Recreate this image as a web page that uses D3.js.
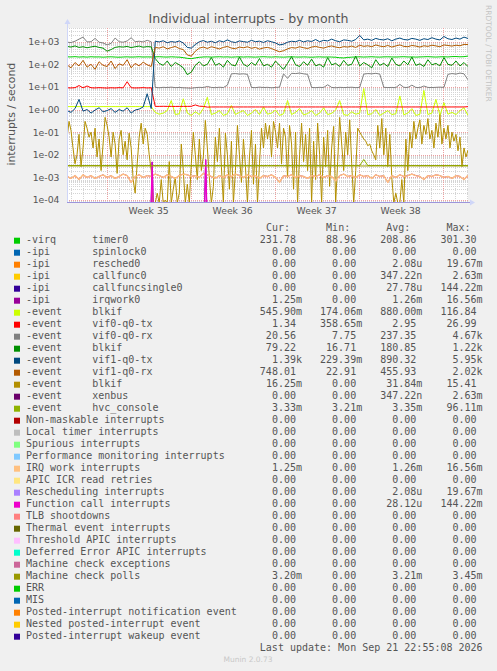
<!DOCTYPE html>
<html><head><meta charset="utf-8">
<script src="https://cdn.jsdelivr.net/npm/d3@7"></script>
<style>
html,body{margin:0;padding:0;background:#f0f0f0;}
svg{display:block;}
</style></head><body>
<svg id="chart" width="497" height="671"></svg>
<script>
// ---------------- DATA ----------------
const chartTitle = "Individual interrupts - by month";
const yAxisLabel = "interrupts / second";
const yTickValues = [1e3, 1e2, 1e1, 1e0, 1e-1, 1e-2, 1e-3, 1e-4];
const yTickLabels = ["1e+03", "1e+02", "1e+01", "1e+00", "1e-01", "1e-02", "1e-03", "1e-04"];
const timeStart = Date.UTC(2026, 7, 20, 16, 40);
const timeEnd = Date.UTC(2026, 8, 23, 2, 40);
const lastUpdate = "Last update: Mon Sep 21 22:55:08 2026";
const credit = "Munin 2.0.73";
const sideText = "RRDTOOL / TOBI OETIKER";
const headers = ["Cur:", "Min:", "Avg:", "Max:"];

const legendGroup = ["-virq","-ipi","-ipi","-ipi","-ipi","-ipi","-event","-event","-event","-event","-event","-event","-event","-event","-event",
  "","","","","","","","","","","","","","","","","","",""];
const legendName = ["timer0","spinlock0","resched0","callfunc0","callfuncsingle0","irqwork0","blkif","vif0-q0-tx","vif0-q0-rx","blkif","vif1-q0-tx","vif1-q0-rx","blkif","xenbus","hvc_console",
  "Non-maskable interrupts","Local timer interrupts","Spurious interrupts","Performance monitoring interrupts","IRQ work interrupts","APIC ICR read retries","Rescheduling interrupts","Function call interrupts","TLB shootdowns","Thermal event interrupts","Threshold APIC interrupts","Deferred Error APIC interrupts","Machine check exceptions","Machine check polls","ERR","MIS","Posted-interrupt notification event","Nested posted-interrupt event","Posted-interrupt wakeup event"];
const legendColor = ["#00CC00","#0066B3","#FF8000","#FFCC00","#330099","#990099","#CCFF00","#FF0000","#808080","#008F00","#00487D","#B35A00","#B38F00","#6B006B","#8FB300",
  "#B30000","#BEBEBE","#80FF80","#80C9FF","#FFC080","#FFE680","#AA80FF","#EE00CC","#FF8080","#666600","#FFBFFF","#00FFCC","#CC6699","#999900","#00CC00","#0066B3","#FF8000","#FFCC00","#330099"];
const legendCur = ["231.78","0.00","0.00","0.00","0.00","1.25m","545.90m","1.34","20.56","79.22","1.39k","748.01","16.25m","0.00","3.33m",
  "0.00","0.00","0.00","0.00","1.25m","0.00","0.00","0.00","0.00","0.00","0.00","0.00","0.00","3.20m","0.00","0.00","0.00","0.00","0.00"];
const legendMin = ["88.96","0.00","0.00","0.00","0.00","0.00","174.06m","358.65m","7.75","16.71","229.39m","22.91","0.00","0.00","3.21m",
  "0.00","0.00","0.00","0.00","0.00","0.00","0.00","0.00","0.00","0.00","0.00","0.00","0.00","0.00","0.00","0.00","0.00","0.00","0.00"];
const legendAvg = ["208.86","0.00","2.08u","347.22n","27.78u","1.26m","880.00m","2.95","237.35","180.85","890.32","455.93","31.84m","347.22n","3.35m",
  "0.00","0.00","0.00","0.00","1.26m","0.00","2.08u","28.12u","0.00","0.00","0.00","0.00","0.00","3.21m","0.00","0.00","0.00","0.00","0.00"];
const legendMax = ["301.30","0.00","19.67m","2.63m","144.22m","16.56m","116.84","26.99","4.67k","1.22k","5.95k","2.02k","15.41","2.63m","96.11m",
  "0.00","0.00","0.00","0.00","16.56m","0.00","19.67m","144.22m","0.00","0.00","0.00","0.00","0.00","3.45m","0.00","0.00","0.00","0.00","0.00"];

// series sampled evenly across the time range
const timer0 = [215,212,218,210,214,209,216,211,213,208, 212,215,210,206,211,214,209,212,216,210,
  213,211,214,217,212,209,215,211,207,198, 184,178,192,205,211,214,209,212,216,211,
  213,208,212,215,210,214,211,209,213,216, 212,210,214,211,208,212,215,211,209,213,
  210,206,211,214,209,212,210,205,196,192, 201,208,212,214,210,213,216,211,209,213,
  215,212,210,214,217,211,213,209,212,215, 218,213,210,214,216,212,219,221,215,218,232];
const irqWork = [0.0011,0.0009,0.0012,0.0008,0.0013,0.001,0.0012,0.0009,0.0011,0.0013,
  0.001,0.0012,0.0009,0.0011,0.0014,0.0012,0.0006,0.0011,0.0013,0.001,
  0.0012,0.0011,0.0014,0.0012,0.001,0.0013,0.0011,0.0009,0.0012,0.0014,
  0.0013,0.0011,0.0012,0.001,0.0015,0.0013,0.0011,0.0009,0.0012,0.001,
  0.0013,0.0011,0.0014,0.0012,0.001,0.0013,0.0011,0.0012,0.0009,0.0012,
  0.0011,0.0013,0.001,0.0006,0.0012,0.0011,0.0013,0.001,0.0012,0.0011,
  0.0009,0.0012,0.0011,0.0013,0.001,0.0012,0.0011,0.0007,0.0012,0.0014,
  0.0011,0.0012,0.001,0.0013,0.0011,0.0012,0.0009,0.0013,0.0011,0.0012,
  0.0006,0.0012,0.001,0.0013,0.0011,0.0012,0.0014,0.0012,0.0011,0.0008,
  0.0012,0.0011,0.0013,0.0012,0.001,0.0011,0.0009,0.0012,0.0011,0.0008,0.00125];
const blkifA = [1.35,1.35,1.35,1.35,1.35,1.35,1.35,1.35,1.35,1.35, 1.35,1.35,1.35,1.35,1.35,1.35,1.35,1.35,1.35,1.35,
  1.35,1.35,0.75,0.62,0.7,0.9,2.5,0.6,0.65,3.0,
  0.7,0.55,0.8,0.6,1.1,3.5,0.6,0.7,0.9,0.55,
  0.65,1.5,0.6,0.75,0.9,0.55,0.7,1.0,0.6,1.3,
  0.62,0.7,0.95,0.55,0.65,2.5,0.6,0.75,1.1,0.58,
  0.66,0.9,0.55,0.7,1.2,0.6,0.68,0.95,2.5,0.6,
  0.55,0.8,0.62,0.7,8.5,0.6,0.65,1.0,0.55,0.7,
  0.9,0.6,0.65,4.0,0.58,0.7,1.1,0.55,0.62,7.0,
  0.6,0.7,2.8,0.55,2.0,0.62,0.75,0.6,0.9,1.2,0.55];
const vif0tx = [9.2,9.0,9.3,11.5,9.1,11,9.2,9.0,9.3,9.1, 8.9,9.2,9.0,9.3,9.1,17,9.2,9.0,9.1,9.3,
  9.0,9.2,1.38,1.38,1.39,1.38,1.38,1.37,1.38,1.38,
  1.38,1.39,1.6,1.4,1.38,1.28,1.3,1.3,1.3,1.3,
  1.3,1.3,1.3,1.3,1.3,1.3,1.3,1.3,1.3,1.3,
  1.3,1.3,1.3,1.3,1.3,1.3,1.3,1.3,1.3,1.3,
  1.3,1.3,1.3,1.3,1.3,1.3,1.3,1.3,1.3,1.3,
  1.3,1.3,1.3,1.3,1.32,1.3,1.3,1.3,1.3,1.3,
  1.3,1.3,1.3,1.3,1.3,1.3,1.3,1.3,1.3,1.3,
  1.3,1.3,1.3,1.3,1.3,1.3,1.3,1.3,1.3,1.3,1.34];
const vif0rx = [950,920,1050,1300,1600,980,1000,1400,950,880, 720,850,1450,1000,950,1080,1500,1000,1050,980,
  1150,1000,9.5,9.2,9.6,9.4,9.8,9.3,9.5,9.2,
  9.0,8.8,9.3,9.6,9.4,10.5,9.5,9.3,9.7,9.4,
  12,38,39,37,38,36,9.5,9.3,9.8,9.4,
  9.6,9.2,9.5,9.8,38,24,40,39,41,38,
  36,9.5,9.3,9.6,9.4,12.5,9.5,9.2,9.6,9.4,
  9.5,9.7,9.3,9.6,37,39,38,40,37,9.6,
  9.4,9.5,9.3,13,9.6,9.4,12,9.5,9.3,11,
  9.5,9.4,9.6,9.8,9.5,36,39,37,41,38,20.56];
const blkifB = [620,580,650,560,600,540,590,630,560,520, 380,450,560,600,580,620,550,600,640,570,
  610,590,180,110,90,140,80,120,95,70,
  35,45,90,130,85,100,200,90,110,75,
  150,95,85,210,100,80,120,90,180,85,
  100,75,140,90,60,110,220,95,80,130,
  90,170,85,100,75,200,95,110,80,150,
  90,100,230,85,120,95,70,160,90,110,
  80,190,100,85,140,95,210,90,105,80,
  160,95,110,85,200,100,90,140,85,120,79];
const vif1tx = [0.9,0.75,1.1,2.8,0.85,1.0,0.7,0.95,1.2,0.8, 0.9,1.1,0.75,1.0,0.85,1.2,0.7,0.95,1.05,1.3,
  5.0,1.1,1050,980,1100,900,1020,950,1080,880,
  560,520,750,1000,1120,950,1050,900,1100,980,
  1200,1000,920,1080,1010,950,1150,1000,1060,930,
  1100,1000,880,720,780,950,1050,1000,1150,980,
  1100,1020,1250,1000,1150,1080,1300,1100,1000,1200,
  1150,1050,1250,1900,1200,1300,1150,1400,1250,1200,
  1350,1100,1300,1450,1250,1200,1400,1300,1150,1350,
  1250,1500,1300,1200,1700,1350,1250,1450,1300,1600,1390];
const vif1rx = [95,70,120,85,150,75,100,60,130,90, 80,140,65,105,90,160,70,110,85,125,
  95,80,560,520,600,480,550,620,500,450,
  260,230,380,520,580,500,600,540,480,560,
  620,520,490,580,540,600,510,560,470,530,
  560,500,420,360,400,480,550,520,600,540,
  500,580,620,560,520,600,650,580,540,610,
  580,640,560,700,620,660,600,720,640,600,
  680,580,650,720,620,600,680,640,580,660,
  620,700,650,600,720,680,640,700,660,760,748];
const blkifC = [0.05,0.3,0.12,0.02,0.004,0.01,0.08,0.003,0.02,0.3,
  0.15,0.06,0.1,0.02,0.15,0.008,0.05,0.002,0.03,0.45,
  0.2,0.06,0.008,0.1,0.03,0.0015,0.05,0.12,0.01,0.04,
  0.006,0.09,0.02,0.0008,0.0002,0.004,0.06,0.25,0.03,0.15,
  0.08,0.01,0.002,0,0,0.0002,0,0.0008,0,0.0001,
  0,0.005,0,0.0003,0.001,0,0.0002,0.03,0.002,0,
  0.0005,0,0.004,0.1,0.01,0.0008,0.05,0.002,0.008,0.33,
  0.02,0.001,0,0.0004,0.06,0.005,0.15,0.003,0,0.09,
  0.01,0.0003,0.04,0,0.002,0.2,0.01,0.0006,0.05,0.003,
  0,0.008,0.12,0.0005,0.03,0,0.004,0.15,0.02,0.25,
  0.05,0.2,0.008,0.3,0.1,0.02,0.25,0.004,0.15,0.06,
  0.001,0.2,0.03,0.0003,0.1,0,0.01,0.25,0.005,0.08,
  0.002,0.15,0,0.04,0.0008,0.25,0.01,0,0.06,0.003,
  0.12,0.0004,0.02,0.18,0,0.005,0.45,0.03,0.002,0.1,
  0.01,0.35,0.004,0,0.002,0.15,0.1,0.07,0.05,0.04,
  0.025,0.03,0.015,0.01,0.006,0.2,0.02,0.4,0.01,0.15,
  0.003,0.08,0.001,0,0.0002,0,0,0.0008,0,0.05,
  0.002,0.1,0.02,0.3,0.05,0.15,0.35,0.03,0.2,0.08,
  0.4,0.05,0.12,0.02,0.25,0.06,0.6,0.03,0.15,0.05,
  0.2,0.02,0.1,0.04,0.08,0.015,0.06,0.003,0.02,0.008,0.016];
const hvcConsole = [0.00335,0.00335,0.00335,0.00335,0.00335,0.00335,0.00335,0.00335,0.00335,0.00335,
  0.00335,0.00335,0.00335,0.00335,0.00335,0.00335,0.00335,0.00335,0.00335,0.00335,
  0.00335,0.00335,0.00335,0.00335,0.00335,0.00335,0.00335,0.00335,0.00335,0.00335,
  0.00335,0.00335,0.00335,0.00335,0.00335,0.00335,0.00335,0.00335,0.00335,0.00335,
  0.00335,0.00335,0.00335,0.00335,0.00335,0.00335,0.00335,0.00335,0.00335,0.00335,
  0.00335,0.00335,0.00335,0.00335,0.00335,0.00335,0.00335,0.00335,0.00335,0.00335,
  0.00335,0.00335,0.00335,0.00335,0.00335,0.00335,0.00335,0.00335,0.00335,0.00335,
  0.00335,0.00335,0.00335,0.00335,0.0062,0.00335,0.00335,0.00335,0.00335,0.00335,
  0.00335,0.00335,0.00335,0.00335,0.00335,0.00335,0.00335,0.00335,0.00335,0.00335,
  0.00335,0.00335,0.00335,0.00335,0.00335,0.00335,0.00335,0.00335,0.00335,0.00335,0.00333];
const mcePolls = [0.0032,0.0032,0.0032,0.0032,0.0032,0.0032,0.0032,0.0032,0.0032,0.0032,0.0032];
// function-call spikes: explicit sample times
const callSpikeTimes = ["2026-08-20T16:40Z","2026-08-27T17:00Z","2026-08-27T19:00Z","2026-08-27T21:00Z",
  "2026-09-01T04:00Z","2026-09-01T06:00Z","2026-09-01T08:00Z","2026-09-23T02:40Z"];
const callSpikeVals = [0, 0, 0.0047, 0, 0, 0.006, 0, 0];

// draw order follows the legend order: [legend index, values, times(optional), width]
const drawList = [
  [0, timer0], [4, callSpikeVals, callSpikeTimes], [5, irqWork], [6, blkifA], [7, vif0tx], [8, vif0rx],
  [9, blkifB], [10, vif1tx], [11, vif1rx], [12, blkifC], [14, hvcConsole], [19, irqWork, null, 1.4],
  [22, callSpikeVals, callSpikeTimes, 1.3], [28, mcePolls]
];

// ---------------- DRAW ----------------
const svg = d3.select("#chart");
const L = 67, R = 468, T = 28, B = 203;
const fontSans = "'DejaVu Sans', sans-serif";
const fontMono = "'DejaVu Sans Mono', monospace";
const txt = "#555555";

const x = d3.scaleUtc().domain([timeStart, timeEnd]).range([L, R]);
const yMin = 7.36e-5, yMax = 4040;
const y = d3.scaleLog().domain([yMin, yMax]).range([B, T]);

svg.append("rect").attr("width", 497).attr("height", 671).attr("fill", "#f0f0f0");
svg.append("rect").attr("x", L).attr("y", T).attr("width", R - L).attr("height", B - T).attr("fill", "#ffffff");

const grid = svg.append("g");
const minorY = [];
for (let n = -5; n <= 3; n++) for (let k = 2; k <= 9; k++) { const v = k * Math.pow(10, n); if (v > yMin && v < yMax) minorY.push(v); }
grid.selectAll(".hmin").data(minorY).enter().append("line")
  .attr("x1", L).attr("x2", R).attr("y1", d => Math.round(y(d)) + 0.5).attr("y2", d => Math.round(y(d)) + 0.5)
  .attr("stroke", "#d4d4d4").attr("stroke-dasharray", "1,1");
const days = d3.utcDay.range(new Date(timeStart), new Date(timeEnd));
grid.selectAll(".vmin").data(days).enter().append("line")
  .attr("y1", T).attr("y2", B).attr("x1", d => Math.round(x(d)) + 0.5).attr("x2", d => Math.round(x(d)) + 0.5)
  .attr("stroke", "#d4d4d4").attr("stroke-dasharray", "1,1");
grid.selectAll(".hmaj").data(yTickValues).enter().append("line")
  .attr("x1", L).attr("x2", R).attr("y1", d => Math.round(y(d)) + 0.5).attr("y2", d => Math.round(y(d)) + 0.5)
  .attr("stroke", "#eba0a0").attr("stroke-dasharray", "1,1");
const weeks = d3.utcMonday.range(new Date(timeStart), new Date(timeEnd));
grid.selectAll(".vmaj").data(weeks).enter().append("line")
  .attr("y1", T).attr("y2", B).attr("x1", d => Math.round(x(d)) + 0.5).attr("x2", d => Math.round(x(d)) + 0.5)
  .attr("stroke", "#eba0a0").attr("stroke-dasharray", "1,1");

// series
svg.append("clipPath").attr("id", "plotclip").append("rect").attr("x", L).attr("y", T).attr("width", R - L).attr("height", B - T);
const lines = svg.append("g").attr("clip-path", "url(#plotclip)");
const yv = v => y(v <= yMin ? yMin : v);
drawList.forEach(([idx, vals, times, w]) => {
  const n = vals.length;
  const pts = vals.map((v, i) => {
    const t = times ? new Date(times[i]).getTime() : timeStart + i * (timeEnd - timeStart) / (n - 1);
    return [t, v];
  });
  const line = d3.line().x(d => x(d[0])).y(d => yv(d[1]));
  lines.append("path").datum(pts).attr("d", line).attr("fill", "none")
    .attr("stroke", legendColor[idx]).attr("stroke-width", w || 1).attr("stroke-linejoin", "round");
});

// axes (drawn over the series)
svg.append("line").attr("x1", L + 0.5).attr("x2", L + 0.5).attr("y1", B).attr("y2", 22).attr("stroke", "#CFD6F8");
svg.append("line").attr("x1", L).attr("x2", 472).attr("y1", B - 0.5).attr("y2", B - 0.5).attr("stroke", "#9d95dc");
svg.append("path").attr("d", `M${L - 2.5},24 L${L + 0.5},19 L${L + 3.5},24 Z`).attr("fill", "#CFD6F8");
svg.append("path").attr("d", `M470,${B - 3.5} L475,${B - 0.5} L470,${B + 2.5} Z`).attr("fill", "#CFD6F8");

// y tick labels
svg.selectAll(".ytl").data(yTickValues).enter().append("text")
  .attr("x", 59.5).attr("y", d => y(d) + 3.4).attr("text-anchor", "end")
  .attr("font-family", fontSans).attr("font-size", "9.3px").attr("fill", txt)
  .text((d, i) => yTickLabels[i]);

// week labels at mid-week
const mids = weeks.map(w => new Date(w.getTime() - 3.5 * 864e5)).concat([new Date(weeks[weeks.length - 1].getTime() + 3.5 * 864e5)])
  .filter(d => d.getTime() > timeStart && d.getTime() < timeEnd);
svg.selectAll(".xtl").data(mids).enter().append("text")
  .attr("x", d => x(d)).attr("y", 214.3).attr("text-anchor", "middle")
  .attr("font-family", fontSans).attr("font-size", "9.3px").attr("fill", txt)
  .text(d => "Week " + d3.utcFormat("%V")(d));

// title, y label, side text
svg.append("text").attr("x", 248.5).attr("y", 22.5).attr("text-anchor", "middle")
  .attr("font-family", fontSans).attr("font-size", "12.6px").attr("fill", txt).text(chartTitle);
svg.append("text").attr("transform", "translate(14.5,114.2) rotate(-90)").attr("text-anchor", "middle")
  .attr("font-family", fontSans).attr("font-size", "10.9px").attr("fill", txt).text(yAxisLabel);
svg.append("text").attr("transform", "translate(485.5,5) rotate(90)").attr("text-anchor", "start")
  .attr("font-family", fontSans).attr("font-size", "7.5px").attr("fill", "#c4c4c4").text(sideText);

// legend
const colRight = [302, 362.2, 422.4, 482.6];
const rowBase = k => 243.2 + 12 * k;
const lg = svg.append("g").attr("font-family", fontMono).attr("font-size", "10px").attr("fill", txt);
headers.forEach((h, c) => lg.append("text").attr("x", colRight[c] - 12).attr("y", rowBase(-1)).attr("text-anchor", "end").text(h));
legendName.forEach((name, k) => {
  lg.append("rect").attr("x", 14).attr("y", rowBase(k) - 5.5).attr("width", 6).attr("height", 6).attr("fill", legendColor[k]);
  if (legendGroup[k]) {
    lg.append("text").attr("x", 26).attr("y", rowBase(k)).text(legendGroup[k]);
    lg.append("text").attr("x", 26 + 11 * 6.02).attr("y", rowBase(k)).text(name);
  } else {
    lg.append("text").attr("x", 26).attr("y", rowBase(k)).text(name);
  }
  [legendCur[k], legendMin[k], legendAvg[k], legendMax[k]].forEach((s, c) => {
    const hasUnit = /[a-zA-Z]$/.test(s);
    lg.append("text").attr("x", hasUnit ? colRight[c] : colRight[c] - 6.02).attr("y", rowBase(k))
      .attr("text-anchor", "end").text(s);
  });
});
lg.append("text").attr("x", 482.6).attr("y", rowBase(34)).attr("text-anchor", "end").text(lastUpdate);
svg.append("text").attr("x", 248).attr("y", 662).attr("text-anchor", "middle")
  .attr("font-family", fontSans).attr("font-size", "7.5px").attr("fill", "#c8c8c8").text(credit);
</script>
</body></html>
